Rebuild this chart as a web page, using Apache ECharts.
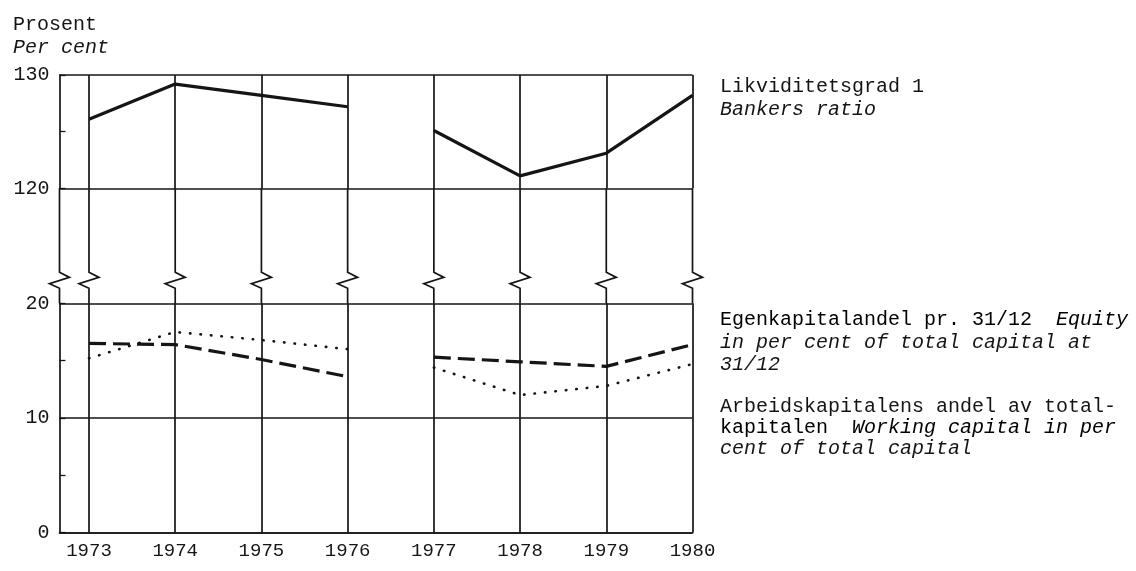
<!DOCTYPE html>
<html>
<head>
<meta charset="utf-8">
<script src="https://cdn.jsdelivr.net/npm/echarts@6/dist/echarts.min.js"></script>
<style>
html,body{margin:0;padding:0;background:#fff;}
#chart{width:1136px;height:571px;}
</style>
</head>
<body>
<div id="chart"></div>
<script>
// ---- data ----
const years = [1973, 1974, 1975, 1976, 1977, 1978, 1979, 1980];
const bankersRatio = [126.1, 129.2, 128.2, 127.2, 125.1, 121.1, 123.1, 128.2];
const equityShare = [16.5, 16.4, 15.1, 13.6, 15.3, 14.9, 14.5, 16.4];
const workingCapitalShare = [15.2, 17.5, 16.8, 16.0, 14.4, 12.0, 12.8, 14.7];
const gapAfterYear = 1976;
const upperRange = [120, 130];
const lowerRange = [0, 20];
const xStart = 1972.658;

const FONT = '"Liberation Mono", "DejaVu Sans Mono", monospace';
const INK = '#151515';

function withGap(vals) {
  const out = [];
  years.forEach((y, i) => {
    out.push([y, vals[i]]);
    if (y === gapAfterYear) out.push([y + 0.5, '-']);
  });
  return out;
}

const vLineStyle = { color: INK, width: 1.7, type: 'solid' };
const vMarkLine = {
  silent: true,
  symbol: ['none', 'none'],
  label: { show: false },
  lineStyle: vLineStyle,
  emphasis: { disabled: true },
  data: years.map(y => ({ xAxis: y }))
};

const grids = [
  { left: 59.5, right: 443.5, top: 75, height: 113.3 },
  { left: 59.5, right: 443.5, top: 188.3, height: 115 },
  { left: 59.5, right: 443.5, top: 303.3, height: 229.4 }
];

function xAx(idx, showLabels) {
  return {
    type: 'value', gridIndex: idx, min: xStart, max: years[years.length - 1],
    axisLine: { show: idx === 2, lineStyle: { color: INK, width: 1.7 } },
    axisTick: { show: false },
    splitLine: { show: false },
    axisLabel: showLabels ? {
      show: true, customValues: years, margin: 9,
      fontFamily: FONT, fontSize: 19, color: INK,
      formatter: v => String(Math.round(v))
    } : { show: false }
  };
}

function yAx(idx, range) {
  return {
    type: 'value', gridIndex: idx, min: range[0], max: range[1], interval: 10,
    axisLine: { show: true, lineStyle: { color: INK, width: 1.7 } },
    axisTick: { show: true, inside: true, length: 6, lineStyle: { color: INK, width: 1.3 } },
    minorTick: { show: true, splitNumber: 2, length: 6, lineStyle: { color: INK, width: 1.3 } },
    splitLine: { show: true, lineStyle: { color: INK, width: 1.5 } },
    axisLabel: { fontFamily: FONT, fontSize: 20, color: INK, margin: 10 }
  };
}

// zigzag break marks in the middle (gap) grid
function renderBreak(params, api) {
  const x = api.value(0);
  const top = api.coord([x, 1]);
  const bot = api.coord([x, 0]);
  const a = api.coord([x, 0.27]);
  const b = api.coord([x, 0.225]);
  const c = api.coord([x, 0.17]);
  const d = api.coord([x, 0.13]);
  return {
    type: 'polyline',
    shape: { points: [top, a, [b[0] + 10, b[1]], [c[0] - 10, c[1]], d, bot] },
    style: { stroke: INK, lineWidth: 1.7, fill: null }
  };
}

const option = {
  animation: false,
  backgroundColor: '#fff',
  grid: grids,
  xAxis: [xAx(0, false), xAx(1, false), xAx(2, true)],
  yAxis: [
    yAx(0, upperRange),
    { type: 'value', gridIndex: 1, min: 0, max: 1, show: false },
    yAx(2, lowerRange)
  ],
  series: [
    {
      name: 'Bankers ratio', type: 'line', xAxisIndex: 0, yAxisIndex: 0,
      data: withGap(bankersRatio), symbol: 'none', connectNulls: false,
      lineStyle: { color: INK, width: 3.2 },
      markLine: vMarkLine
    },
    {
      name: 'Break', type: 'custom', xAxisIndex: 1, yAxisIndex: 1,
      renderItem: renderBreak, silent: true,
      data: [xStart].concat(years).map(v => [v, 0.5])
    },
    {
      name: 'Equity', type: 'line', xAxisIndex: 2, yAxisIndex: 2,
      data: withGap(equityShare), symbol: 'none', connectNulls: false,
      lineStyle: { color: INK, width: 3.2, type: [17, 7] },
      markLine: vMarkLine
    },
    {
      name: 'Working capital', type: 'line', xAxisIndex: 2, yAxisIndex: 2,
      data: withGap(workingCapitalShare), symbol: 'none', connectNulls: false,
      lineStyle: { color: INK, width: 2.6, type: [0.5, 10], cap: 'round' }
    }
  ],
  graphic: [
    { type: 'text', x: 13, y: 25, style: { text: 'Prosent', fontFamily: FONT, fontSize: 20, fill: INK, verticalAlign: 'middle' } },
    { type: 'text', x: 13, y: 48, style: { text: 'Per cent', fontFamily: FONT, fontSize: 20, fontStyle: 'italic', fill: INK, verticalAlign: 'middle' } },

    { type: 'text', x: 720, y: 87, style: { text: 'Likviditetsgrad 1', fontFamily: FONT, fontSize: 20, fill: INK, verticalAlign: 'middle' } },
    { type: 'text', x: 720, y: 110, style: { text: 'Bankers ratio', fontFamily: FONT, fontSize: 20, fontStyle: 'italic', fill: INK, verticalAlign: 'middle' } },

    { type: 'text', x: 720, y: 320, style: {
      text: '{n|Egenkapitalandel pr. 31/12}{i|  Equity}', verticalAlign: 'middle',
      rich: { n: { fontFamily: FONT, fontSize: 20, color: INK }, i: { fontFamily: FONT, fontSize: 20, fontStyle: 'italic', color: INK } }
    } },
    { type: 'text', x: 720, y: 343, style: { text: 'in per cent of total capital at', fontFamily: FONT, fontSize: 20, fontStyle: 'italic', fill: INK, verticalAlign: 'middle' } },
    { type: 'text', x: 720, y: 365, style: { text: '31/12', fontFamily: FONT, fontSize: 20, fontStyle: 'italic', fill: INK, verticalAlign: 'middle' } },

    { type: 'text', x: 720, y: 407, style: { text: 'Arbeidskapitalens andel av total-', fontFamily: FONT, fontSize: 20, fill: INK, verticalAlign: 'middle' } },
    { type: 'text', x: 720, y: 428, style: {
      text: '{n|kapitalen}{i|  Working capital in per}', verticalAlign: 'middle',
      rich: { n: { fontFamily: FONT, fontSize: 20, color: INK }, i: { fontFamily: FONT, fontSize: 20, fontStyle: 'italic', color: INK } }
    } },
    { type: 'text', x: 720, y: 449, style: { text: 'cent of total capital', fontFamily: FONT, fontSize: 20, fontStyle: 'italic', fill: INK, verticalAlign: 'middle' } }
  ]
};

const chart = echarts.init(document.getElementById('chart'), null, { renderer: 'canvas' });
chart.setOption(option);
</script>
</body>
</html>
